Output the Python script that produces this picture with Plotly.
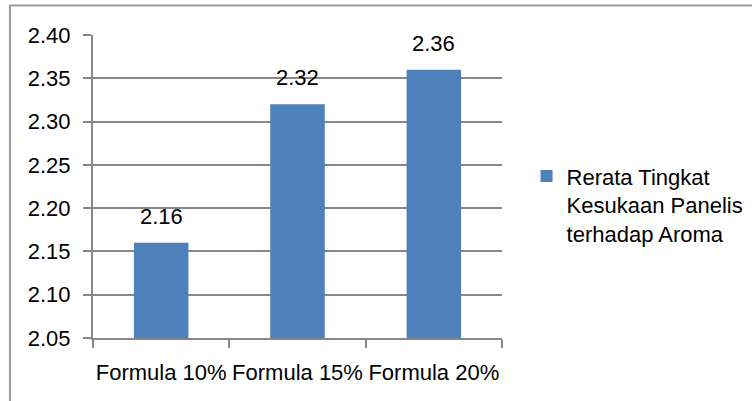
import plotly.graph_objects as go

categories = ["Formula 10%", "Formula 15%", "Formula 20%"]
values = [2.16, 2.32, 2.36]
series_name = "Rerata Tingkat<br>Kesukaan Panelis<br>terhadap Aroma"
y_ticks = [2.05, 2.10, 2.15, 2.20, 2.25, 2.30, 2.35, 2.40]

FONT = "Liberation Sans, Arial, sans-serif"
GRID = "#878787"
FS = 22

fig = go.Figure()
fig.add_trace(go.Bar(
    x=categories, y=values, name=series_name,
    marker=dict(color="#4F81BD", line=dict(width=0)),
    cliponaxis=False,
))

for c, v in zip(categories, values):
    fig.add_annotation(x=c, y=v, text=f"{v:.2f}", showarrow=False,
                       yanchor="bottom", yshift=12,
                       font=dict(size=FS, color="#000000", family=FONT))

fig.update_layout(
    width=752, height=401,
    margin=dict(l=93, r=250, t=35, b=63, autoexpand=False),
    paper_bgcolor="white", plot_bgcolor="white",
    font=dict(family=FONT, size=FS, color="#000000"),
    bargap=0.6,
    showlegend=True,
    legend=dict(x=1.06, y=0.44, xanchor="left", yanchor="middle",
                valign="top", font=dict(size=FS, family=FONT),
                itemwidth=30, tracegroupgap=0, bgcolor="rgba(0,0,0,0)"),
    xaxis=dict(
        showline=True, linecolor=GRID, linewidth=2,
        ticks="outside", ticklen=8, tickcolor=GRID, tickwidth=2,
        tickson="boundaries", showgrid=False, tickangle=0,
        ticklabelstandoff=14,
        tickfont=dict(size=FS, family=FONT),
    ),
    yaxis=dict(
        range=[2.05, 2.40], tickvals=y_ticks,
        ticktext=[f"{t:.2f}" for t in y_ticks],
        showline=True, linecolor=GRID, linewidth=2,
        ticks="outside", ticklen=8, tickcolor=GRID, tickwidth=2,
        showgrid=True, gridcolor=GRID, gridwidth=2,
        zeroline=False, ticklabelstandoff=8,
        tickfont=dict(size=FS, family=FONT),
    ),
    shapes=[dict(type="rect", xref="paper", yref="paper",
                 x0=-0.203, x1=1.8, y0=-0.5, y1=1.097,
                 line=dict(color="#9a9a9a", width=2), layer="below")],
)

fig.write_html("out.html")
